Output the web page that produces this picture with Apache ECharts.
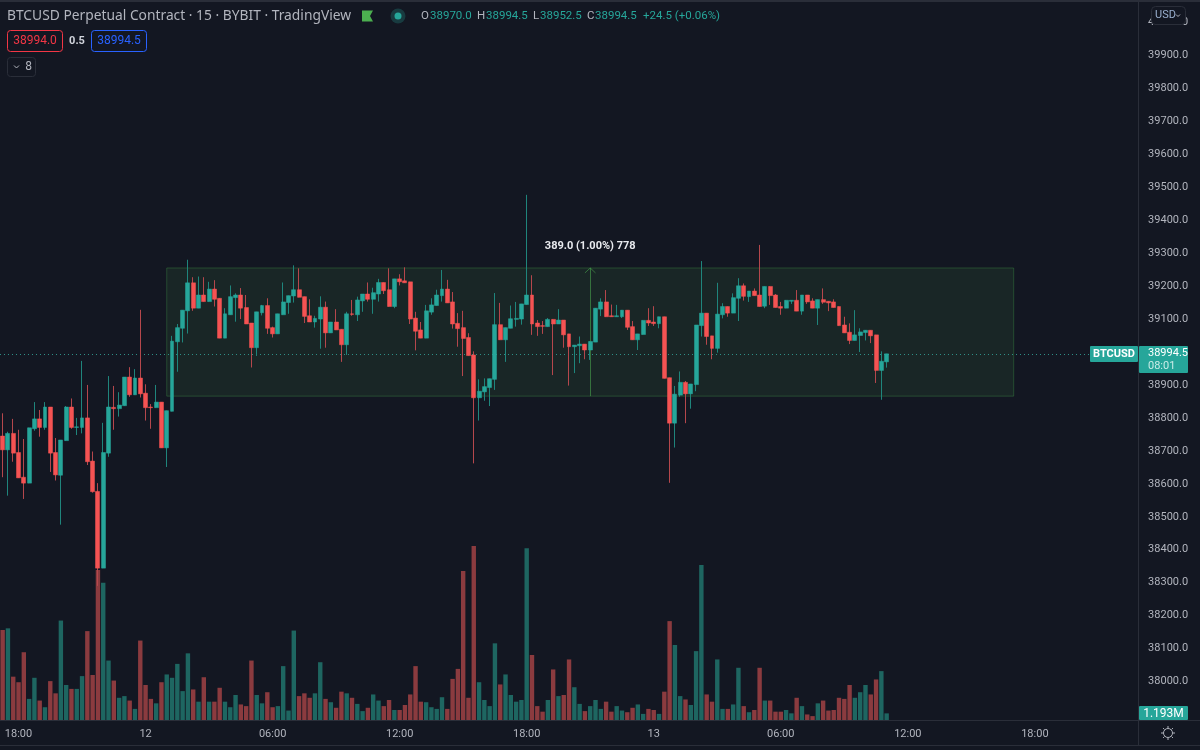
<!DOCTYPE html>
<html lang="en">
<head>
<meta charset="utf-8">
<title>BTCUSD Perpetual Contract</title>
<script src="https://cdn.jsdelivr.net/npm/echarts@6/dist/echarts.min.js"></script>
<style>html,body{margin:0;padding:0;background:#131722}</style>
</head>
<body>
<div id="main" style="width:1200px;height:750px"></div>
<script>
// 15 minute bars, [open, close, low, high]
var ohlc = [
[38745,38703,38620,38814],[38703,38753,38564,38758],[38753,38693,38667,38797],[38695,38618,38618,38764],[38620,38602,38554,38736],
[38602,38770,38602,38770],[38767,38797,38761,38848],[38797,38771,38743,38824],[38771,38833,38764,38848],[38833,38693,38636,38833],
[38695,38627,38610,38739],[38626,38733,38476,38733],[38731,38833,38731,38836],[38833,38771,38767,38859],[38771,38773,38748,38800],
[38771,38800,38753,38973],[38800,38667,38657,38900],[38669,38576,38573,38698],[38577,38344,38290,38602],[38344,38695,38344,38785],
[38693,38833,38682,38927],[38832,38828,38764,38897],[38828,38839,38804,38878],[38837,38924,38837,38924],[38924,38870,38864,38954],
[38870,38921,38870,38948],[38921,38873,38862,39128],[38875,38831,38792,38902],[38833,38831,38767,38842],[38831,38848,38831,38900],
[38848,38709,38709,38848],[38709,38822,38651,38822],[38820,39033,38820,39049],[39031,39074,38940,39085],[39072,39127,39029,39127],
[39125,39210,39056,39280],[39210,39133,39125,39227],[39133,39173,39133,39229],[39173,39153,39153,39227],[39153,39191,39153,39213],
[39191,39160,39138,39218],[39163,39042,39042,39163],[39042,39116,39042,39133],[39113,39168,39113,39202],[39165,39173,39092,39178],
[39173,39133,39100,39194],[39135,39085,39085,39173],[39088,39013,38953,39088],[39013,39122,38988,39122],[39119,39141,39111,39143],
[39141,39072,39055,39163],[39074,39055,39044,39077],[39055,39116,39055,39116],[39113,39152,39113,39211],[39150,39171,39116,39171],
[39170,39189,39150,39263],[39189,39166,39166,39254],[39168,39108,39088,39168],[39110,39091,39091,39160],[39091,39102,39074,39110],
[39100,39136,39010,39169],[39136,39058,39013,39153],[39058,39091,39058,39091],[39091,39067,39067,39130],[39069,39022,38970,39069],
[39022,39116,38991,39122],[39116,39114,39110,39158],[39113,39158,39094,39168],[39155,39176,39122,39176],[39176,39160,39153,39211],
[39160,39180,39116,39195],[39176,39211,39153,39222],[39211,39186,39176,39211],[39189,39138,39138,39254],[39138,39222,39133,39222],
[39222,39213,39202,39236],[39216,39210,39210,39257],[39213,39100,39085,39213],[39103,39063,39005,39122],[39067,39042,39042,39091],
[39042,39125,39042,39143],[39121,39143,39113,39163],[39141,39173,39141,39189],[39171,39191,39153,39249],[39191,39149,39149,39219],
[39152,39085,39071,39182],[39087,39071,39016,39118],[39074,39041,38927,39125],[39044,38989,38989,39057],[38991,38861,38662,39002],
[38861,38881,38792,38917],[38879,38895,38852,38920],[38892,38919,38836,38919],[38917,39083,38885,39179],[39083,39037,39037,39149],
[39037,39074,38970,39074],[39072,39101,39072,39141],[39099,39102,39077,39152],[39100,39146,39083,39146],[39144,39173,39144,39477],
[39173,39085,39052,39233],[39088,39077,39049,39097],[39080,39078,39055,39094],[39077,39099,39077,39103],[39099,39085,38930,39099],
[39085,39097,39085,39130],[39097,39052,39013,39097],[39055,39016,38898,39055],[39016,39021,38936,39021],[39019,39024,38966,39047],
[39024,39006,38978,39024],[39006,39032,38976,39032],[39030,39133,39030,39133],[39130,39152,39109,39163],[39152,39107,39107,39188],
[39110,39107,39107,39144],[39107,39110,39107,39143],[39107,39127,39103,39127],[39127,39075,39067,39127],[39077,39037,39037,39094],
[39037,39055,39006,39055],[39053,39096,39053,39096],[39096,39088,39079,39133],[39091,39086,39079,39139],[39086,39107,39072,39107],
[39107,38920,38920,39107],[38922,38784,38603,38922],[38784,38872,38710,38897],[38869,38908,38864,38941],[38908,38873,38784,38912],
[38873,38903,38828,38903],[38901,39082,38881,39082],[39080,39118,39047,39276],[39118,39047,39022,39118],[39049,39011,38978,39049],
[39011,39115,38998,39210],[39113,39138,39102,39148],[39138,39118,39107,39138],[39118,39165,39118,39178],[39163,39201,39094,39224],
[39201,39169,39156,39208],[39168,39185,39152,39185],[39185,39171,39171,39193],[39173,39138,39138,39325],[39139,39199,39133,39199],
[39199,39171,39143,39199],[39173,39135,39135,39176],[39138,39133,39113,39152],[39133,39157,39133,39157],[39154,39157,39146,39157],
[39157,39124,39124,39188],[39124,39173,39113,39173],[39173,39152,39146,39173],[39155,39133,39133,39163],[39133,39159,39082,39159],
[39159,39151,39146,39193],[39154,39149,39124,39154],[39152,39135,39135,39160],[39138,39080,39080,39138],[39082,39058,39058,39107],
[39060,39035,39024,39087],[39035,39052,39035,39127],[39050,39061,39000,39072],[39059,39066,39035,39066],[39066,39049,39027,39066],
[39052,38944,38906,39052],[38944,38972,38855,39002],[38970,38994.5,38952.5,38994.5]
];
// volume in millions
var volumes = [
16.2,16.5,7.8,6.8,12.2,3.8,7.6,3.5,2.3,7.0,4.8,17.9,6.3,5.6,5.6,7.9,16.0,8.1,27.0,24.7,
10.7,7.1,4.0,4.3,3.5,2.0,14.3,6.3,3.8,3.0,6.8,8.2,7.6,10.1,5.2,12.0,5.5,3.3,7.7,3.3,
3.3,5.8,3.3,2.3,4.5,2.8,2.5,10.7,4.5,3.0,5.0,2.3,2.5,9.7,1.7,16.1,4.3,
4.8,4.0,4.8,10.4,3.8,3.2,2.2,5.1,4.8,4.0,2.9,1.6,2.2,4.6,3.5,2.5,3.6,1.8,1.8,2.7,4.6,9.7,3.3,
3.2,2.3,2.0,4.1,2.0,7.4,9.2,26.8,4.0,31.3,6.8,3.6,2.5,13.8,6.4,8.2,4.5,3.3,3.6,30.9,
11.7,2.5,1.5,3.6,9.1,4.3,4.5,10.9,5.9,2.9,1.6,2.5,3.6,2.0,
3.3,1.5,2.5,1.7,1.4,2.2,2.8,1.1,2.0,1.8,1.1,5.1,17.8,13.5,4.3,3.7,2.7,12.4,27.9,4.6,
3.3,10.9,2.0,2.0,2.8,9.4,2.5,1.4,1.8,9.4,3.5,3.5,1.5,1.5,1.8,1.2,4.0,2.5,1.0,0.7,
3.0,3.5,1.7,1.8,4.0,3.8,6.3,4.0,5.0,6.3,4.6,7.3,8.8,1.193
];
var timeTicks = {'11 18:00':'18:00','12 00:00':'12','12 06:00':'06:00','12 12:00':'12:00','12 18:00':'18:00',
    '13 00:00':'13','13 06:00':'06:00','13 12:00':'12:00','13 18:00':'18:00'};
var lastPrice = 38994.5;
var rangeTop = 39255, rangeBottom = 38866;   // price range tool
var rangeFrom = 31, rangeTo = 191, rangeMid = 111;   // bar indexes

// time slots, the axis runs on past the last bar
var categories = [];
for (var i = 0; i < 215; i++) {
    var m = 17 * 60 + 15 + i * 15;
    var day = 11 + Math.floor(m / 1440);
    var hh = Math.floor(m % 1440 / 60), mm = m % 60;
    categories.push(day + ' ' + (hh < 10 ? '0' : '') + hh + ':' + (mm < 10 ? '0' : '') + mm);
}

var bg = '#131722', lineCol = '#2a2e39', textCol = '#b2b5be';
var up = '#26a69a', down = '#f55353', upWick = '#1f857c', downWick = '#b5474c', upVol = '#1e6661', downVol = '#8b3b3f';
var font = 'Roboto';
var headFont = '"Noto Sans"';

function txt(x, y, s, col, size, opt) {
    return {type: 'text', x: x, y: y, z: 20, style: {
        text: s, fill: col, font: (opt && opt.w || 'normal') + ' ' + size + 'px ' + (opt && opt.f || font),
        textAlign: opt && opt.a || 'left', textVerticalAlign: 'middle'}};
}
function box(x, y, w, h, fill, stroke, r) {
    return {type: 'rect', z: 19, shape: {x: x, y: y, width: w, height: h, r: r || 0},
        style: {fill: fill, stroke: stroke || null, lineWidth: 1}};
}
function seg(x1, y1, x2, y2, col) {
    return {type: 'line', z: 18, shape: {x1: x1, y1: y1, x2: x2, y2: y2}, style: {stroke: col || lineCol, lineWidth: 1}};
}

var gfx = [
    box(0, 0, 1200, 2, lineCol),
    seg(0, 720.5, 1200, 720.5),
    seg(1138.5, 0, 1138.5, 745),
    seg(0, 745.5, 1200, 745.5),
    // legend
    txt(7, 16, 'BTCUSD Perpetual Contract · 15 · BYBIT · TradingView', textCol, 13.8, {f: headFont}),
    {type: 'polygon', z: 20, shape: {points: [[362, 10.5], [373, 10.5], [370, 16], [373, 21.5], [362, 21.5]]}, style: {fill: '#4caf50'}},
    {type: 'circle', z: 19, shape: {cx: 398, cy: 16, r: 7.5}, style: {fill: 'rgba(38,166,154,0.25)'}},
    {type: 'circle', z: 20, shape: {cx: 398, cy: 16, r: 3.5}, style: {fill: '#26a69a'}},
    txt(421, 16, 'O', textCol, 11.5), txt(430, 16, '38970.0', up, 11.5),
    txt(477, 16, 'H', textCol, 11.5), txt(486, 16, '38994.5', up, 11.5),
    txt(533, 16, 'L', textCol, 11.5), txt(540, 16, '38952.5', up, 11.5),
    txt(587, 16, 'C', textCol, 11.5), txt(595, 16, '38994.5', up, 11.5),
    txt(643, 16, '+24.5 (+0.06%)', up, 11.5),
    box(7.5, 30.5, 55, 21, bg, '#f23645', 3),
    txt(35, 41, '38994.0', '#f23645', 12, {a: 'center'}),
    txt(77, 41, '0.5', '#d1d4dc', 11, {a: 'center', w: 'bold'}),
    box(91.5, 30.5, 55, 21, bg, '#2962ff', 3),
    txt(119, 41, '38994.5', '#2962ff', 12, {a: 'center'}),
    box(7.5, 57.5, 28, 19, bg, lineCol, 3),
    {type: 'polyline', z: 20, shape: {points: [[14, 65.5], [16.5, 68], [19, 65.5]]}, style: {stroke: textCol, fill: null, lineWidth: 1}},
    txt(28.5, 67, '8', textCol, 12, {a: 'center'}),
    // price scale extras
    box(1151.5, 6.5, 34, 18, bg, lineCol, 4),
    txt(1155, 15.5, 'USD', '#9ab0cf', 11),
    {type: 'polyline', z: 20, shape: {points: [[1176, 14.5], [1178, 16.5], [1180, 14.5]]}, style: {stroke: textCol, fill: null, lineWidth: 1}},
    box(1090, 346, 48, 16, '#26a69a', null, 1),
    txt(1114, 354, 'BTCUSD', '#ffffff', 11, {a: 'center', w: 'bold'}),
    box(1139, 346, 49, 27, '#26a69a', null, 1),
    txt(1148, 353.5, '38994.5', '#ffffff', 11),
    txt(1148, 366, '08:01', '#c9ece7', 11),
    box(1139, 706, 49, 14, '#26a69a', null, 1),
    txt(1163.5, 714, '1.193M', '#ffffff', 12, {a: 'center'}),
    {type: 'circle', z: 20, shape: {cx: 1168, cy: 733, r: 4.5}, style: {fill: null, stroke: textCol, lineWidth: 1}}
];
for (var a = 0; a < 8; a++) {
    var c = Math.cos(a * Math.PI / 4), s = Math.sin(a * Math.PI / 4);
    gfx.push(seg(1168 + c * 5, 733 + s * 5, 1168 + c * 7, 733 + s * 7, textCol));
}

var myChart = echarts.init(document.getElementById('main'), null, {renderer: 'canvas'});

var option = {
    backgroundColor: bg,
    animation: false,
    textStyle: {fontFamily: font},
    graphic: gfx,
    grid: [
        {left: -0.55, width: 1138.64, top: 22.5, bottom: 35.55},
        {left: -0.55, width: 1138.64, bottom: 30, height: 200}
    ],
    xAxis: [
        {type: 'category', gridIndex: 0, data: categories, show: false},
        {
            type: 'category', gridIndex: 1, data: categories,
            axisLine: {show: false}, axisTick: {show: false}, splitLine: {show: false},
            axisLabel: {
                color: textCol, fontSize: 11, margin: 9,
                interval: function (idx, v) { return timeTicks[v] !== undefined; },
                formatter: function (v) { return timeTicks[v] || ''; }
            }
        }
    ],
    yAxis: [
        {
            type: 'value', gridIndex: 0, position: 'right', min: 37900, max: 40000, interval: 100, scale: true,
            axisLine: {show: false}, axisTick: {show: false}, splitLine: {show: false},
            axisLabel: {
                color: textCol, fontSize: 11, margin: 10,
                formatter: function (v) { return v <= 37900 ? '' : v.toFixed(1); }
            }
        },
        {type: 'value', gridIndex: 1, min: 0, max: 36, show: false}
    ],
    series: [
        {
            type: 'bar', xAxisIndex: 1, yAxisIndex: 1, z: 1, barWidth: 4.4,
            data: volumes.map(function (v, i) {
                return {value: v, itemStyle: {color: ohlc[i][1] >= ohlc[i][0] ? upVol : downVol}};
            })
        },
        {
            // range tool and last price line sit under the candles
            type: 'line', xAxisIndex: 0, yAxisIndex: 0, z: 1, data: [],
            markArea: {
                silent: true, z: 1,
                itemStyle: {color: 'rgba(76,175,80,0.1)', borderColor: 'rgba(76,175,80,0.3)', borderWidth: 1},
                data: [[{xAxis: rangeFrom, yAxis: rangeTop}, {xAxis: rangeTo, yAxis: rangeBottom}]]
            },
            markLine: {
                silent: true, z: 1, symbol: 'none', label: {show: false},
                lineStyle: {color: 'rgba(76,175,80,0.55)', type: 'solid', width: 1},
                data: [
                    [{coord: [rangeMid, rangeBottom]}, {coord: [rangeMid, rangeTop]}],
                    [{coord: [rangeMid - 1, rangeTop - 15]}, {coord: [rangeMid, rangeTop]}],
                    [{coord: [rangeMid + 1, rangeTop - 15]}, {coord: [rangeMid, rangeTop]}],
                    {yAxis: lastPrice, lineStyle: {color: '#2f8f86', type: [1, 3]}}
                ]
            },
            markPoint: {
                silent: true, symbol: 'circle', symbolSize: 1, itemStyle: {color: 'rgba(0,0,0,0)'},
                data: [{coord: [rangeMid, 39321], label: {
                    show: true, formatter: '389.0 (1.00%) 778', color: '#e8eaee', fontSize: 11, fontWeight: 'bold',
                    fontFamily: font, position: 'inside', align: 'center', verticalAlign: 'middle'
                }}]
            }
        },
        {
            // wicks, a little dimmer than the bodies
            type: 'candlestick', xAxisIndex: 0, yAxisIndex: 0, z: 3, barWidth: 1,
            itemStyle: {color: upWick, color0: downWick, borderColor: upWick, borderColor0: downWick, borderWidth: 1},
            data: ohlc
        },
        {
            type: 'candlestick', xAxisIndex: 0, yAxisIndex: 0, z: 4, barWidth: 4.4,
            itemStyle: {color: up, color0: down, borderColor: up, borderColor0: down, borderWidth: 0.5},
            data: ohlc.map(function (d) {
                return [d[0], d[1], Math.min(d[0], d[1]), Math.max(d[0], d[1])];
            })
        }
    ]
};
myChart.setOption(option);
</script>
</body>
</html>
